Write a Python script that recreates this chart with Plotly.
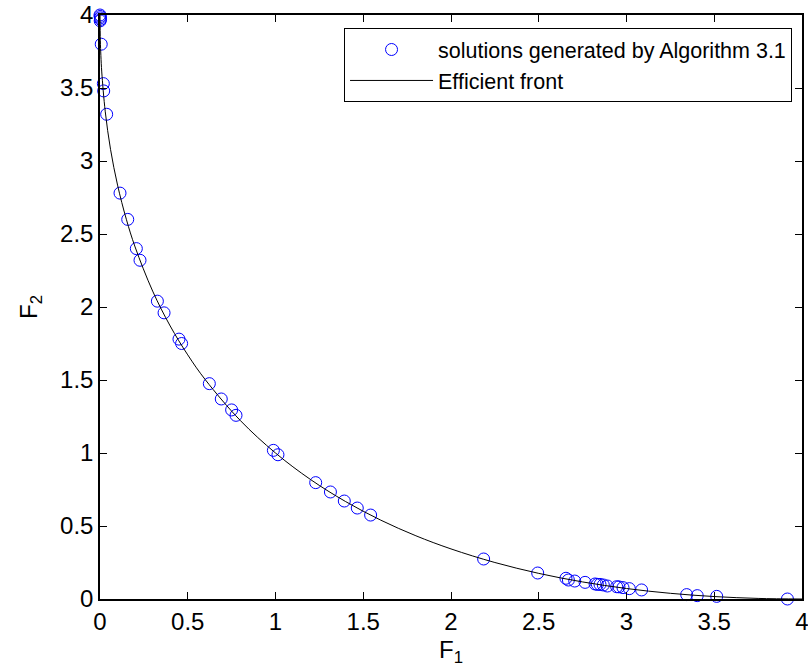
import plotly.graph_objects as go

# Solutions generated by Algorithm 3.1
sol_f1 = [0.0, 0.001, 0.002, 0.003, 0.001, 0.007, 0.019, 0.021, 0.038,
          0.114, 0.158, 0.207, 0.228, 0.327, 0.365, 0.45, 0.465,
          0.623, 0.691, 0.750, 0.775, 0.988, 1.014, 1.229, 1.313, 1.392,
          1.466, 1.542, 2.186, 2.494, 2.655, 2.669, 2.705, 2.764, 2.821,
          2.834, 2.849, 2.868, 2.891, 2.944, 2.957, 2.980, 3.016, 3.086,
          3.343, 3.403, 3.514, 3.917]
sol_f2 = [4.0, 3.99, 3.98, 3.97, 3.96, 3.80, 3.53, 3.48, 3.32,
          2.78, 2.60, 2.40, 2.32, 2.04, 1.96, 1.78, 1.75,
          1.475, 1.37, 1.295, 1.258, 1.018, 0.988, 0.797, 0.733, 0.671,
          0.623, 0.575, 0.274, 0.178, 0.142, 0.130, 0.123, 0.114, 0.103,
          0.100, 0.100, 0.096, 0.089, 0.084, 0.083, 0.078, 0.071, 0.062,
          0.030, 0.023, 0.018, 0.0]

# Efficient front
front_f1 = [0.0, 0.002, 0.005, 0.01, 0.03, 0.06, 0.1, 0.15, 0.2, 0.3, 0.4,
            0.5, 0.6, 0.8, 1.0, 1.2, 1.4, 1.6, 1.8, 2.0, 2.25, 2.5, 2.75,
            3.0, 3.25, 3.5, 3.75, 4.0]
front_f2 = [4.0, 3.823, 3.722, 3.61, 3.337, 3.080, 2.835, 2.601, 2.411,
            2.109, 1.870, 1.672, 1.502, 1.222, 1.0, 0.818, 0.667, 0.540,
            0.433, 0.343, 0.25, 0.1755, 0.1168, 0.0718, 0.0389, 0.0167,
            0.0040, 0.0]

ticks = [0, 0.5, 1, 1.5, 2, 2.5, 3, 3.5, 4]
tick_text = ["0", "0.5", "1", "1.5", "2", "2.5", "3", "3.5", "4"]

FONT = "Liberation Sans, Arial, sans-serif"

fig = go.Figure()
fig.add_trace(go.Scatter(
    x=sol_f1, y=sol_f2, mode="markers",
    name="solutions generated by Algorithm 3.1",
    marker=dict(symbol="circle-open", size=12, color="blue",
                line=dict(width=1, color="blue")),
    cliponaxis=False, legendgroup="a"))
fig.add_trace(go.Scatter(
    x=front_f1, y=front_f2, mode="lines", name="Efficient front",
    line=dict(color="black", width=1, shape="spline"),
    legendgroup="b"))

axis_common = dict(
    range=[0, 4], tickvals=ticks, ticktext=tick_text,
    ticks="inside", ticklen=7, tickwidth=1, tickcolor="black",
    showline=True, linecolor="black", linewidth=1.5, mirror="ticks",
    showgrid=False, zeroline=False, automargin=False,
    ticklabeloverflow="allow",
    tickfont=dict(family=FONT, size=24, color="black"),
)

fig.update_xaxes(**axis_common,
                 title=dict(text="F<sub>1</sub>", standoff=8,
                            font=dict(family=FONT, size=24, color="black")))
fig.update_yaxes(**axis_common,
                 title=dict(text="F<sub>2</sub>", standoff=16,
                            font=dict(family=FONT, size=24, color="black")))

fig.update_layout(
    width=808, height=669,
    margin=dict(l=100, r=6, t=15, b=70, autoexpand=False),
    paper_bgcolor="white", plot_bgcolor="white",
    font=dict(family=FONT, color="black"),
    legend=dict(
        x=0.9858, y=0.9777, xanchor="right", yanchor="top",
        bordercolor="black", borderwidth=1, bgcolor="white",
        font=dict(family=FONT, size=21.5, color="black"),
        traceorder="grouped", tracegroupgap=0, itemwidth=83,
    ),
    showlegend=True,
)

fig.write_html("out.html",
               config={"displayModeBar": False},
               post_script="document.body.style.margin='0';"
                           "document.body.style.padding='0';")
